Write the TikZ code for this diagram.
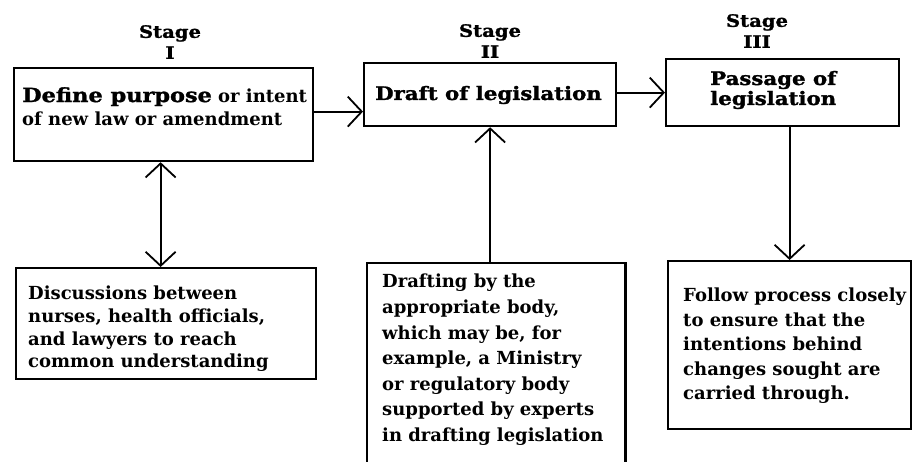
\documentclass[tikz,border=0pt]{standalone}
\usepackage{fontspec}
\setmainfont{DejaVu Serif}
\newfontfamily\heavyfont{DejaVu Serif}[UprightFont=* Bold, FakeBold=1.5, FakeStretch=1.15]
\usetikzlibrary{arrows.meta,calc}
\tikzset{
  box/.style={draw, line width=2.2pt, rectangle, inner sep=0pt},
  bodytext/.style={align=left, inner sep=0pt, anchor=north west},
  headtext/.style={align=left, inner sep=0pt, anchor=west, font=\fontsize{18.5}{20}\heavyfont},
  stagelbl/.style={align=center, inner sep=0pt, font=\fontsize{17}{21}\heavyfont},
  arr/.style={line width=1.8pt, -{Straight Barb[length=14pt,width=30pt]}},
  biarr/.style={line width=1.8pt, {Straight Barb[length=14pt,width=30pt]}-{Straight Barb[length=14pt,width=30pt]}}
}
\begin{document}
\begin{tikzpicture}[x=1pt,y=-1pt]
\useasboundingbox (0,0) rectangle (912,461);
\path[clip] (0,0) rectangle (912,461);
\fill[white] (0,0) rectangle (912,461);

% stage labels
\node[stagelbl] (s1) at (170,42) {Stage\\I};
\node[stagelbl] (s2) at (490,41) {Stage\\II};
\node[stagelbl] (s3) at (757,31) {Stage\\III};

% top boxes
\node[box, anchor=north west, minimum width=299pt, minimum height=93pt] (b1) at (13,67) {};
\node[bodytext, font=\fontsize{18}{23}\selectfont\bfseries] (t1) at (22,87) {{\fontsize{19.5}{23}\heavyfont Define purpose} or intent\\of new law or amendment};

\node[box, anchor=north west, minimum width=252pt, minimum height=63pt] (b2) at (363,62) {};
\node[headtext] (t2) at (375,95) {Draft of legislation};

\node[box, anchor=north west, minimum width=233pt, minimum height=67pt] (b3) at (665,58) {};
\node[headtext] (t3) at (710,90) {Passage of\\legislation};

% lower boxes
\node[box, anchor=north west, minimum width=300pt, minimum height=111pt] (b4) at (15,267) {};
\node[bodytext, font=\fontsize{18}{22.7}\selectfont\bfseries] (t4) at (28,286) {Discussions between\\nurses, health officials,\\and lawyers to reach\\common understanding};

\node[anchor=north west, minimum width=258pt, minimum height=230pt, inner sep=0pt] (b5) at (367,263) {};
\draw[line width=2.2pt] (b5.south west) -- (b5.north west) -- (b5.north east) -- (b5.south east);
\node[bodytext, font=\fontsize{18}{25.6}\selectfont\bfseries] (t5) at (382,274) {Drafting by the\\appropriate body,\\which may be, for\\example, a Ministry\\or regulatory body\\supported by experts\\in drafting legislation};

\node[box, anchor=north west, minimum width=243pt, minimum height=168pt] (b6) at (667,260) {};
\node[bodytext, font=\fontsize{18}{24.5}\selectfont\bfseries] (t6) at (683,288) {Follow process closely\\to ensure that the\\intentions behind\\changes sought are\\carried through.};

% connectors
\draw[arr] ([yshift=3pt]b1.east) -- ([yshift=3pt]b1.east -| b2.west);
\draw[arr] ([yshift=2pt]b2.east) -- ([yshift=2pt]b2.east -| b3.west);
\draw[biarr] ([xshift=-3pt]b1.south) -- ([xshift=-3pt]b1.south |- b4.north);
\draw[arr] (b2.south |- b5.north) -- (b2.south);
\draw[arr] (b3.south -| b6.north) -- (b6.north);
\end{tikzpicture}
\end{document}
